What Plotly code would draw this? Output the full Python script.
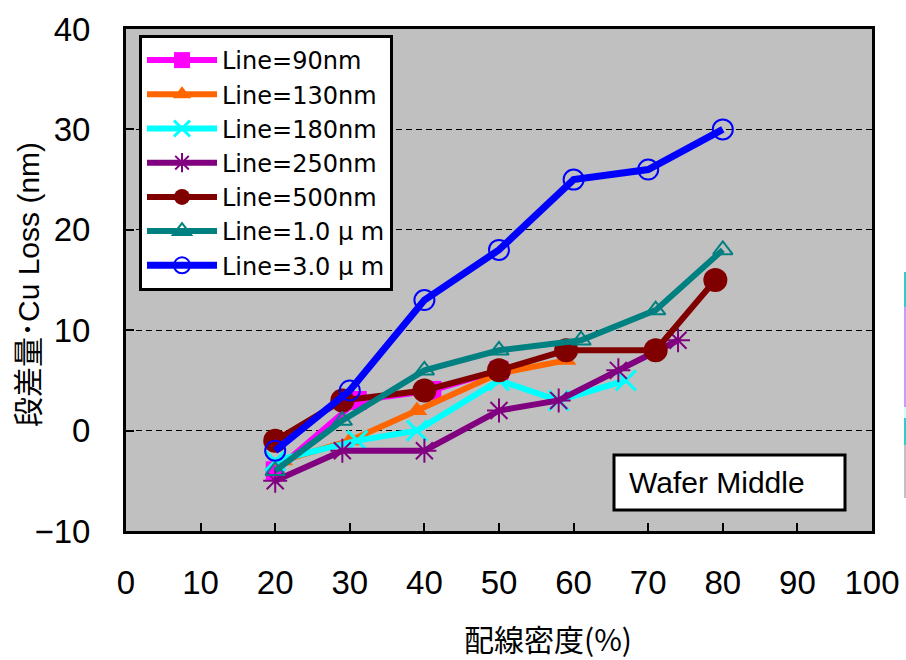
import plotly.graph_objects as go

# ---- data ----
series_names = ["Line=90nm", "Line=130nm", "Line=180nm", "Line=250nm",
                "Line=500nm", "Line=1.0 μ m", "Line=3.0 μ m"]
x_90 = [20, 31, 41, 50]
y_90 = [-4, 3, 4, 6]
x_130 = [21, 30, 39, 50, 59]
y_130 = [-3, -1, 2, 5.7, 7]
x_180 = [20, 31, 39, 50, 58, 67]
y_180 = [-3, -1, 0, 5, 3, 5]
x_250 = [20, 29, 40, 50, 58, 66, 74]
y_250 = [-5, -2, -2, 2, 3, 6, 9]
x_500 = [20, 29, 40, 50, 59, 71, 79]
y_500 = [-1, 3, 4, 6, 8, 8, 15]
x_1um = [20, 29, 40, 50, 61, 71, 80]
y_1um = [-4, 1, 6, 8, 9, 12, 18]
x_3um = [20, 30, 40, 50, 60, 70, 80]
y_3um = [-2, 4, 13, 18, 25, 26, 30]

x_ticks = [0, 10, 20, 30, 40, 50, 60, 70, 80, 90, 100]
y_ticks = [-10, 0, 10, 20, 30, 40]

xs = [x_90, x_130, x_180, x_250, x_500, x_1um, x_3um]
ys = [y_90, y_130, y_180, y_250, y_500, y_1um, y_3um]
colors = ["#FF00FF", "#FF6600", "#00FFFF", "#800080", "#800000", "#008080", "#0000FF"]
symbols = ["square", "triangle-up", "x-thin-open", "asterisk-open",
           "circle", "triangle-up-open", "circle-open"]
msizes = [19, 18, 20, 20, 24, 17, 20]
mlw = [0, 0, 3, 2, 0, 2, 2]
lws = [6, 6, 6, 6, 6, 6, 7]

fig = go.Figure()
for name, x, y, c, s, ms, mw, lw in zip(series_names, xs, ys, colors, symbols, msizes, mlw, lws):
    fig.add_trace(go.Scatter(
        x=x, y=y, name=name, mode="lines+markers",
        line=dict(color=c, width=lw),
        marker=dict(symbol=s, size=ms, color=c, line=dict(color=c, width=mw)),
    ))

L, R, T, B = 126, 34, 29, 129
W, H = 906, 660
pw = W - L - R
ph = H - T - B

def px_x(p):
    return (p - L) / pw

def px_y(p):
    return (H - B - p) / ph

fig.update_layout(
    width=W, height=H,
    margin=dict(l=L, r=R, t=T, b=B, pad=0),
    paper_bgcolor="white",
    plot_bgcolor="#C0C0C0",
    font=dict(family="Liberation Sans, Arial, Noto Sans CJK JP", color="black"),
    showlegend=True,
    legend=dict(
        x=px_x(139), y=px_y(35), xanchor="left", yanchor="top",
        bgcolor="white", bordercolor="black", borderwidth=3,
        font=dict(family="DejaVu Sans", size=24, color="black"),
        itemwidth=70, tracegroupgap=0,
    ),
    xaxis=dict(
        range=[0, 100], tickvals=x_ticks, ticktext=[str(v) for v in x_ticks],
        showgrid=False, zeroline=False, automargin=False,
        showline=True, linecolor="black", linewidth=3, mirror=True,
        ticks="inside", ticklen=8, tickwidth=1.5, tickcolor="black",
        tickfont=dict(size=33, family="Liberation Sans, Arial"),
        ticklabelstandoff=20,
    ),
    yaxis=dict(
        range=[-10, 40], tickvals=y_ticks, ticktext=["\u221210", "0", "10", "20", "30", "40"],
        showgrid=True, gridcolor="black", gridwidth=1, griddash="6px,4px",
        zeroline=False, automargin=False,
        showline=True, linecolor="black", linewidth=3, mirror=True,
        ticks="inside", ticklen=8, tickwidth=1.5, tickcolor="black",
        tickfont=dict(size=33, family="Liberation Sans, Arial"),
        ticklabelstandoff=26,
    ),
)

# axis titles
fig.add_annotation(
    text="配線密度(%)", xref="paper", yref="paper",
    x=px_x(548), y=0, yshift=-(638 - (H - B)), yanchor="middle", xanchor="center",
    showarrow=False, font=dict(size=30, family="Noto Sans CJK JP"),
)
fig.add_annotation(
    text="段差量･Cu Loss (nm)", xref="paper", yref="paper",
    x=0, xshift=-(L - 28), y=0.5, yshift=-5, textangle=-90,
    xanchor="center", yanchor="middle", showarrow=False,
    font=dict(size=30, family="Liberation Sans, Noto Sans CJK JP"),
)

# "Wafer Middle" label box
fig.add_shape(
    type="rect", xref="paper", yref="paper",
    x0=px_x(614), x1=px_x(845), y0=px_y(510), y1=px_y(455),
    fillcolor="white", line=dict(color="black", width=3), layer="above",
)
fig.add_annotation(
    text="Wafer Middle", xref="paper", yref="paper",
    x=px_x(627), y=px_y(482.5), xanchor="left", yanchor="middle",
    showarrow=False, font=dict(size=30, family="Liberation Sans, Arial"),
)

# cropped colour strips at far right edge
strips = [(272, 307, "#33CCCC"), (307, 407, "#CC99FF"), (407, 418, "#CCFFFF"),
          (418, 445, "#33CCCC"), (445, 498, "#C0C0C0")]
for y0, y1, c in strips:
    fig.add_shape(type="rect", xref="paper", yref="paper",
                  x0=px_x(904), x1=px_x(906.5), y0=px_y(y1), y1=px_y(y0),
                  fillcolor=c, line=dict(width=0))

fig.write_html(
    "out.html",
    config={"displayModeBar": False},
    post_script="document.body.style.margin='0';document.body.style.overflow='hidden';",
)
